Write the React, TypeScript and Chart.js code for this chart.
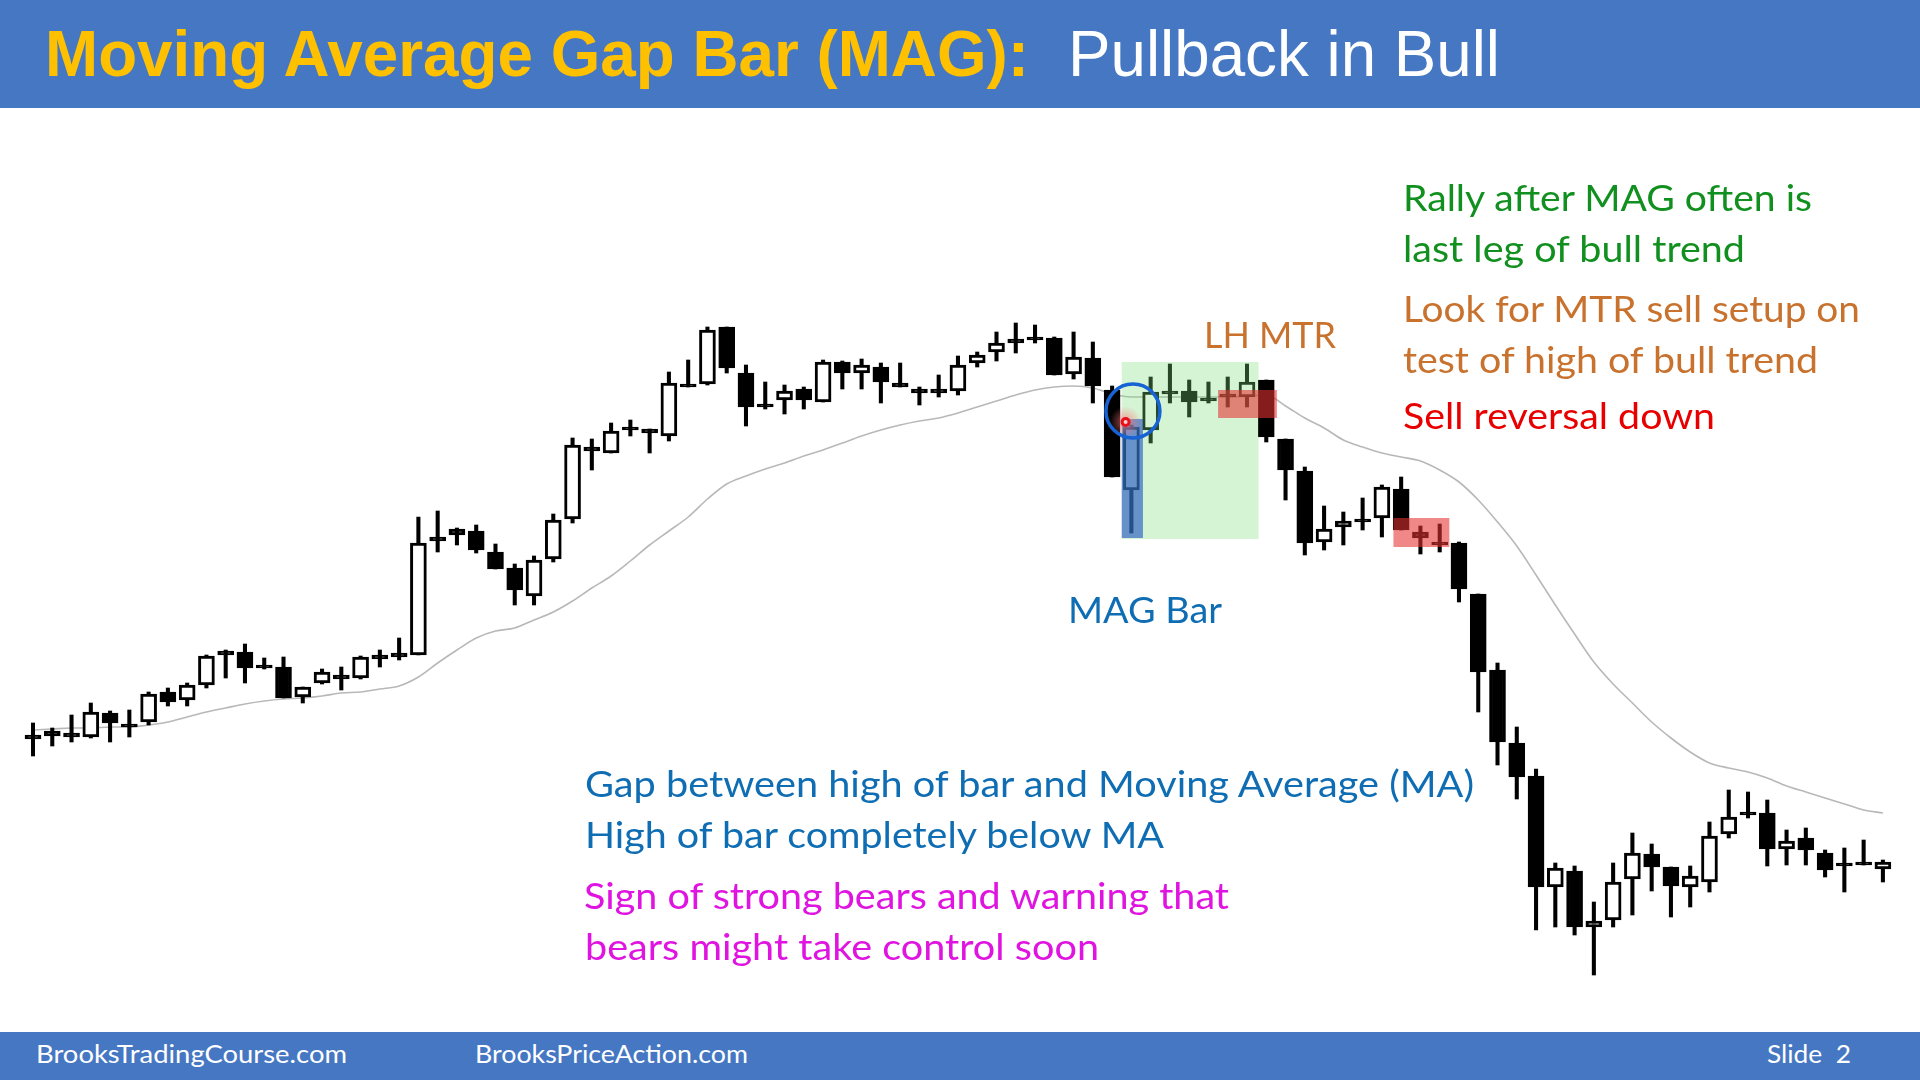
import React, { useEffect, useLayoutEffect, useRef } from "react";
import { Chart, registerables } from "chart.js";

Chart.register(...registerables);

// ---- Data (price units, one entry per bar, bar index = position) ----
const opens = [
  265, 269, 267, 263, 287, 276, 278, 308, 300, 315,
  349, 348, 335, 333, 303, 317, 325, 322, 345, 347,
  345, 463, 471, 469, 448, 432, 404, 441, 481, 553,
  547, 573, 571, 564, 616, 616, 673, 627, 596, 600,
  611, 598, 638, 627, 633, 617, 611, 611, 609, 637,
  648, 661, 663, 662, 626, 642, 610, 510, 570, 609,
  609, 602, 606, 603, 620, 561, 529, 458, 473, 481,
  482, 511, 468, 458, 457, 406, 330, 257, 224, 113,
  129, 73, 80, 121, 146, 133, 113, 118, 166, 188,
  187, 151, 162, 147, 137, 138, 131,
];
const highs = [
  277, 272, 285, 297, 289, 290, 308, 312, 317, 345,
  350, 356, 342, 343, 313, 331, 333, 344, 350, 362,
  483, 489, 472, 475, 456, 436, 444, 486, 562, 561,
  577, 580, 571, 628, 640, 673, 673, 635, 618, 615,
  613, 640, 639, 641, 637, 637, 613, 625, 644, 648,
  668, 677, 675, 663, 668, 658, 614, 575, 623, 636,
  620, 618, 623, 636, 620, 561, 533, 494, 488, 502,
  515, 523, 474, 476, 458, 406, 337, 273, 231, 137,
  134, 98, 137, 167, 156, 133, 134, 178, 210, 208,
  200, 170, 172, 150, 152, 160, 140,
];
const lows = [
  244, 254, 258, 262, 258, 263, 275, 294, 294, 312,
  322, 317, 331, 302, 297, 316, 310, 321, 333, 340,
  345, 448, 455, 447, 431, 395, 395, 438, 477, 530,
  547, 564, 547, 559, 613, 615, 627, 574, 591, 586,
  591, 598, 611, 611, 597, 613, 595, 603, 605, 633,
  639, 647, 657, 625, 621, 597, 523, 467, 557, 597,
  583, 597, 593, 593, 558, 500, 445, 450, 455, 470,
  463, 470, 446, 448, 398, 288, 235, 201, 70, 73,
  65, 25, 73, 85, 109, 83, 93, 108, 162, 182,
  134, 135, 135, 123, 108, 135, 118,
];
const closes = [
  261, 264, 263, 288, 277, 273, 306, 298, 315, 344,
  345, 332, 332, 302, 313, 328, 321, 343, 341, 343,
  457, 459, 465, 450, 431, 410, 440, 480, 555, 549,
  569, 570, 567, 617, 613, 670, 632, 593, 593, 609,
  600, 638, 627, 635, 618, 613, 607, 607, 635, 645,
  657, 657, 660, 625, 643, 614, 523, 573, 608, 606,
  598, 599, 603, 618, 563, 530, 457, 471, 479, 478,
  513, 470, 462, 455, 411, 328, 258, 223, 113, 132,
  73, 79, 118, 147, 133, 114, 124, 164, 183, 185,
  151, 159, 150, 130, 134, 135, 138,
];
const movingAverage = [
  270, 271, 272, 272, 273, 273, 275, 278, 283, 288,
  292, 296, 299, 301, 302, 304, 307, 308, 311, 314,
  323, 337, 350, 362, 369, 372, 380, 388, 399, 412,
  424, 439, 455, 469, 483, 501, 516, 524, 531, 537,
  544, 550, 557, 564, 570, 575, 579, 582, 587, 593,
  599, 605, 610, 613, 614, 612, 606, 603, 603, 603,
  603, 603, 603, 604, 605, 594, 582, 572, 560, 553,
  547, 543, 539, 530, 518, 500, 478, 454, 425, 395,
  366, 338, 316, 297, 278, 262, 248, 237, 232, 228,
  222, 214, 208, 202, 196, 190, 187,
];

// Highlight zones: [barFrom, barTo, priceTop, priceBottom]
const pullbackZone = [56.5, 63.6, 638, 461];
const magBarZone = [56.5, 57.6, 581, 462];
const sellZones = [
  [61.5, 64.55, 610, 582],
  [70.6, 73.5, 482, 453],
];
// MAG marker: [bar, price]
const magMarker = [57.08, 589];
const magDot = [56.7, 578];

const X_MIN = -1.7125;
const X_MAX = 97.925;
const Y_MIN = -80;
const Y_MAX = 1000;

const BODY_FONT = 'Lato, "Open Sans", "Noto Sans", sans-serif';
const TITLE_FONT = '"Liberation Sans", Arial, sans-serif';
const BAR_BLUE = "#4677c3";

const zonePlugin = {
  id: "zones",
  afterDatasetsDraw(chart: any) {
    const { ctx, scales } = chart;
    const x = scales.x;
    const y = scales.y;
    const rect = (z: number[], color: string) => {
      const x0 = x.getPixelForValue(z[0]);
      const x1 = x.getPixelForValue(z[1]);
      const y0 = y.getPixelForValue(z[2]);
      const y1 = y.getPixelForValue(z[3]);
      ctx.fillStyle = color;
      ctx.fillRect(x0, y0, x1 - x0, y1 - y0);
    };
    ctx.save();
    rect(pullbackZone, "rgba(120, 220, 120, 0.32)");
    rect(magBarZone, "rgba(35, 85, 195, 0.62)");
    for (const z of sellZones) rect(z, "rgba(230, 50, 50, 0.58)");

    const dx = x.getPixelForValue(magDot[0]);
    const dy = y.getPixelForValue(magDot[1]);
    const g = ctx.createRadialGradient(dx, dy, 2, dx, dy, 16);
    g.addColorStop(0, "rgba(255,120,120,0.6)");
    g.addColorStop(1, "rgba(255,120,120,0)");
    ctx.fillStyle = g;
    ctx.beginPath();
    ctx.arc(dx, dy, 16, 0, Math.PI * 2);
    ctx.fill();
    ctx.fillStyle = "#e8101a";
    ctx.beginPath();
    ctx.arc(dx, dy, 5, 0, Math.PI * 2);
    ctx.fill();
    ctx.fillStyle = "#ffd0d0";
    ctx.beginPath();
    ctx.arc(dx, dy, 2, 0, Math.PI * 2);
    ctx.fill();

    const cx = x.getPixelForValue(magMarker[0]);
    const cy = y.getPixelForValue(magMarker[1]);
    ctx.strokeStyle = "#1763d4";
    ctx.lineWidth = 3.5;
    ctx.beginPath();
    ctx.arc(cx, cy, 27, 0, Math.PI * 2);
    ctx.stroke();
    ctx.restore();
  },
};

type LabelProps = {
  text: string;
  x: number;
  baseline: number;
  width: number;
  color: string;
  size: number;
  weight?: number;
  family?: string;
};

function Label({ text, x, baseline, width, color, size, weight = 400, family = BODY_FONT }: LabelProps) {
  const ref = useRef<HTMLDivElement>(null);
  const mark = useRef<HTMLSpanElement>(null);
  useLayoutEffect(() => {
    const el = ref.current;
    const m = mark.current;
    if (!el || !m) return;
    el.style.transform = "none";
    el.style.top = "0px";
    const r = el.getBoundingClientRect();
    if (r.width > 0) el.style.transform = `scaleX(${width / r.width})`;
    const b = m.getBoundingClientRect().top - el.getBoundingClientRect().top;
    el.style.top = `${baseline - b}px`;
  }, [text, x, baseline, width, size]);
  return (
    <div
      ref={ref}
      style={{
        position: "absolute",
        left: x,
        top: 0,
        whiteSpace: "pre",
        color,
        fontFamily: family,
        fontWeight: weight,
        fontSize: size,
        lineHeight: 1.2,
        transformOrigin: "left top",
      }}
    >
      {text}
      <span ref={mark} style={{ display: "inline-block", width: 0, height: 0 }} />
    </div>
  );
}

export default function App() {
  const canvasRef = useRef<HTMLCanvasElement>(null);

  useEffect(() => {
    const canvas = canvasRef.current;
    if (!canvas) return;
    const chart = new Chart(canvas, {
      type: "bar",
      data: {
        datasets: [
          {
            type: "bar",
            label: "Body",
            data: opens.map((o, i) => ({ x: i, y: [o, closes[i]] })) as any,
            backgroundColor: opens.map((o, i) => (closes[i] > o ? "#ffffff" : "#000000")),
            borderColor: "#000000",
            borderWidth: 3,
            borderSkipped: false,
            barThickness: 16,
            grouped: false,
            order: 1,
          } as any,
          {
            type: "bar",
            label: "Wick",
            data: lows.map((l, i) => ({ x: i, y: [l, highs[i]] })) as any,
            backgroundColor: "#000000",
            borderWidth: 0,
            barThickness: 3.4,
            grouped: false,
            order: 2,
          } as any,
          {
            type: "line",
            label: "MA",
            data: movingAverage.map((v, i) => ({ x: i, y: v })) as any,
            borderColor: "#b8b8b8",
            borderWidth: 1.6,
            pointRadius: 0,
            cubicInterpolationMode: "monotone",
            order: 3,
          } as any,
        ],
      },
      options: {
        animation: false,
        responsive: false,
        devicePixelRatio: 1,
        events: [],
        layout: { padding: 0 },
        scales: {
          x: { type: "linear", min: X_MIN, max: X_MAX, display: false, offset: false },
          y: { type: "linear", min: Y_MIN, max: Y_MAX, display: false },
        },
        plugins: {
          legend: { display: false },
          tooltip: { enabled: false },
        },
      } as any,
      plugins: [zonePlugin as any],
    });
    return () => chart.destroy();
  }, []);

  const orange = "#c8722e";
  const green = "#11901f";
  const blue = "#0f6db3";
  const magenta = "#e014e0";
  const red = "#e80000";

  return (
    <div
      style={{
        position: "absolute",
        left: 0,
        top: 0,
        width: 1920,
        height: 1080,
        background: "#ffffff",
        overflow: "hidden",
      }}
    >
      <canvas
        ref={canvasRef}
        width={1920}
        height={1080}
        style={{ position: "absolute", left: 0, top: 0, width: 1920, height: 1080 }}
      />
      <div style={{ position: "absolute", left: 0, top: 0, width: 1920, height: 108, background: BAR_BLUE }} />
      <div style={{ position: "absolute", left: 0, top: 1032, width: 1920, height: 48, background: BAR_BLUE }} />

      <Label text="Moving Average Gap Bar (MAG):" x={45} baseline={76} width={984} color="#ffc000" size={64} weight={700} family={TITLE_FONT} />
      <Label text="Pullback in Bull" x={1068} baseline={76} width={432} color="#ffffff" size={64} family={TITLE_FONT} />

      <Label text="Rally after MAG often is" x={1403} baseline={211} width={409} color={green} size={37} />
      <Label text="last leg of bull trend" x={1403} baseline={262} width={342} color={green} size={37} />
      <Label text="Look for MTR sell setup on" x={1403} baseline={322} width={457} color={orange} size={37} />
      <Label text="test of high of bull trend" x={1403} baseline={373} width={415} color={orange} size={37} />
      <Label text="Sell reversal down" x={1403} baseline={429} width={312} color={red} size={37} />

      <Label text="LH MTR" x={1204} baseline={348} width={132} color={orange} size={37} />
      <Label text="MAG Bar" x={1068} baseline={623} width={154} color={blue} size={37} />

      <Label text="Gap between high of bar and Moving Average (MA)" x={585} baseline={797} width={889} color={blue} size={37} />
      <Label text="High of bar completely below MA" x={585} baseline={848} width={579} color={blue} size={37} />
      <Label text="Sign of strong bears and warning that" x={584} baseline={909} width={645} color={magenta} size={37} />
      <Label text="bears might take control soon" x={585} baseline={960} width={514} color={magenta} size={37} />

      <Label text="BrooksTradingCourse.com" x={36} baseline={1063} width={311} color="#ffffff" size={25} />
      <Label text="BrooksPriceAction.com" x={475} baseline={1063} width={273} color="#ffffff" size={25} />
      <Label text="Slide  2" x={1767} baseline={1063} width={84} color="#ffffff" size={25} />
    </div>
  );
}
